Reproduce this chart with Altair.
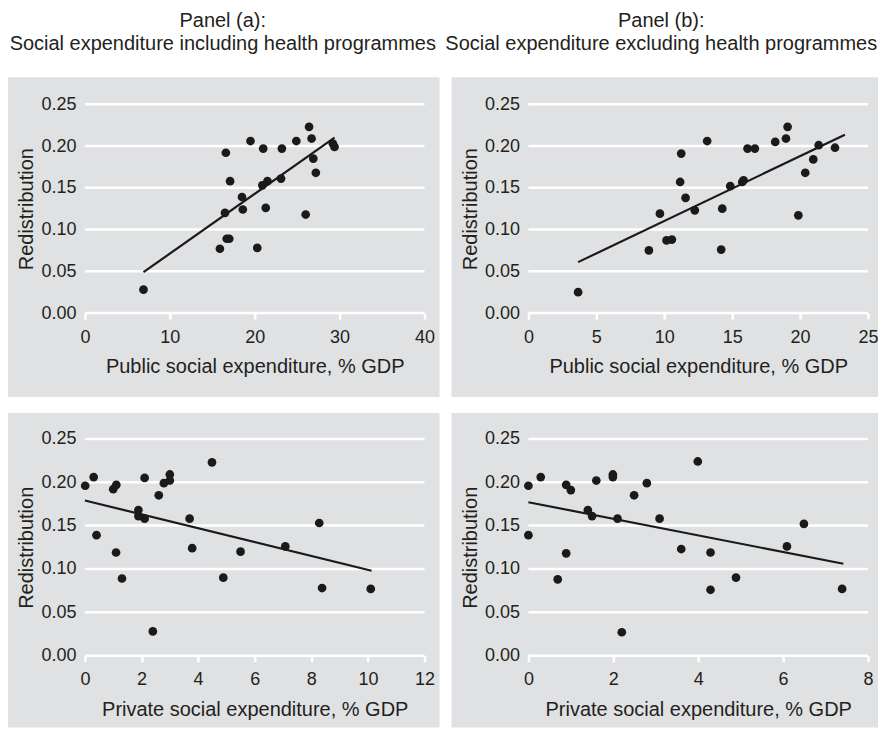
import altair as alt
import pandas as pd

# ---------------- data ----------------
# Panel (a), top: public social expenditure incl. health
pub_a_x = [6.9, 16.6, 17.1, 19.5, 21.0, 23.2, 24.9, 26.4, 26.7, 29.2, 29.4, 26.9, 27.2,
           26.0, 23.1, 21.5, 20.9, 21.3, 18.5, 18.6, 16.5, 16.7, 17.0, 15.9, 20.3]
pub_a_y = [0.028, 0.192, 0.158, 0.206, 0.197, 0.197, 0.206, 0.223, 0.209, 0.203, 0.199, 0.185, 0.168,
           0.118, 0.161, 0.158, 0.153, 0.126, 0.139, 0.124, 0.120, 0.089, 0.089, 0.077, 0.078]
pub_a_fit_x = [6.9, 29.4]
pub_a_fit_y = [0.049, 0.210]

# Panel (b), top: public social expenditure excl. health
pub_b_x = [3.66, 8.87, 9.68, 10.17, 10.56, 11.25, 11.17, 11.57, 12.25, 13.16, 14.19, 14.27, 14.86,
           15.74, 15.84, 16.13, 16.67, 18.17, 18.96, 19.08, 19.87, 20.38, 20.97, 21.37, 22.57]
pub_b_y = [0.025, 0.075, 0.119, 0.087, 0.088, 0.191, 0.157, 0.138, 0.123, 0.206, 0.076, 0.125, 0.152,
           0.157, 0.159, 0.197, 0.197, 0.205, 0.209, 0.223, 0.117, 0.168, 0.184, 0.201, 0.198]
pub_b_fit_x = [3.66, 23.3]
pub_b_fit_y = [0.061, 0.2136]

# Panel (a), bottom: private social expenditure
priv_a_x = [0.01, 0.31, 0.41, 1.0, 1.11, 1.1, 1.31, 1.89, 1.89, 2.11, 2.11, 2.40, 2.61,
            2.79, 3.0, 3.0, 3.70, 3.79, 4.49, 4.89, 5.50, 7.08, 8.28, 8.38, 10.1]
priv_a_y = [0.196, 0.206, 0.139, 0.192, 0.197, 0.119, 0.089, 0.168, 0.161, 0.205, 0.158, 0.028, 0.185,
            0.199, 0.209, 0.202, 0.158, 0.124, 0.223, 0.090, 0.120, 0.126, 0.153, 0.078, 0.077]
priv_a_fit_x = [0.0, 10.13]
priv_a_fit_y = [0.179, 0.098]

# Panel (b), bottom: private social expenditure
priv_b_x = [0.0, 0.0, 0.29, 0.69, 0.89, 1.0, 0.89, 1.4, 1.5, 1.6, 1.99, 1.99, 2.1,
            2.2, 2.49, 2.79, 3.09, 3.6, 3.99, 4.29, 4.29, 4.89, 6.09, 6.49, 7.39]
priv_b_y = [0.196, 0.139, 0.206, 0.088, 0.197, 0.191, 0.118, 0.168, 0.161, 0.202, 0.209, 0.206, 0.158,
            0.027, 0.185, 0.199, 0.158, 0.123, 0.224, 0.119, 0.076, 0.090, 0.126, 0.152, 0.077]
priv_b_fit_x = [0.0, 7.42]
priv_b_fit_y = [0.177, 0.106]

y_ticks = [0.0, 0.05, 0.10, 0.15, 0.20, 0.25]
title_a = ["Panel (a):", "Social expenditure including health programmes"]
title_b = ["Panel (b):", "Social expenditure excluding health programmes"]
xtitle_pub = "Public social expenditure, % GDP"
xtitle_priv = "Private social expenditure, % GDP"
ytitle = "Redistribution"

# ---------------- styling ----------------
FONT = "Liberation Sans"
GRAY = "#e0e1e3"
INK = "#1a1a1a"
TXT = "#231f20"


def panel(xs, ys, fx, fy, xmax, xstep, xtitle, w, h, pad, title=None, title_dx=0):
    xscale = alt.Scale(domain=[0, xmax], nice=False, zero=True)
    yscale = alt.Scale(domain=[0, 0.25], nice=False)
    xaxis = alt.Axis(values=list(range(0, xmax + 1, xstep)), title=xtitle, grid=False,
                     domain=False, ticks=True, tickColor="white", tickWidth=2.5, tickSize=6,
                     labelPadding=9, labelFontSize=18, labelFont=FONT, labelColor=TXT,
                     titleFontSize=20, titleFont=FONT, titleColor=TXT, titleFontWeight="normal",
                     titlePadding=11, zindex=1, labelFlush=False)
    yaxis = alt.Axis(values=y_ticks, format=".2f", title=ytitle, grid=False, domain=False,
                     ticks=False, labelPadding=9, labelFontSize=18, labelFont=FONT,
                     labelColor=TXT, titleFontSize=20, titleFont=FONT, titleColor=TXT,
                     titleFontWeight="normal", titlePadding=4, zindex=1)

    pts = pd.DataFrame({"x": xs, "y": ys})
    fit = pd.DataFrame({"x": fx, "y": fy})
    grid = pd.DataFrame({"y": y_ticks})

    left, right, top, bottom = pad
    bg = alt.Chart(alt.Data(values=[{}])).mark_rect(color=GRAY).encode(
        x=alt.value(-left), x2=alt.value(w + right),
        y=alt.value(-top), y2=alt.value(h + bottom))
    gridl = alt.Chart(grid).mark_rule(color="white", strokeWidth=2.5).encode(
        y=alt.Y("y:Q", scale=yscale, axis=yaxis))
    line = alt.Chart(fit).mark_line(color=INK, strokeWidth=2.2).encode(
        x=alt.X("x:Q", scale=xscale, axis=xaxis), y=alt.Y("y:Q", scale=yscale, axis=yaxis))
    dots = alt.Chart(pts).mark_circle(size=76, color=INK, opacity=1).encode(
        x=alt.X("x:Q", scale=xscale, axis=xaxis), y=alt.Y("y:Q", scale=yscale, axis=yaxis))

    props = dict(width=w, height=h)
    if title is not None:
        props["title"] = alt.TitleParams(text=title, fontSize=20, font=FONT, color=TXT,
                                         fontWeight="normal", anchor="middle", offset=23,
                                         lineHeight=23, dx=title_dx)
    return alt.layer(bg, gridl, line, dots).properties(**props)


W = 340
pa = panel(pub_a_x, pub_a_y, pub_a_fit_x, pub_a_fit_y, 40, 10, xtitle_pub, W, 209,
           (77, 15, 27, 84), title_a, -32)
pb = panel(pub_b_x, pub_b_y, pub_b_fit_x, pub_b_fit_y, 25, 5, xtitle_pub, W, 209,
           (77, 10, 27, 84), title_b, -37)
pc = panel(priv_a_x, priv_a_y, priv_a_fit_x, priv_a_fit_y, 12, 2, xtitle_priv, W, 217,
           (77, 15, 26, 72))
pd_ = panel(priv_b_x, priv_b_y, priv_b_fit_x, priv_b_fit_y, 8, 2, xtitle_priv, W, 217,
            (77, 10, 26, 72))

chart = alt.concat(pa, pb, pc, pd_, columns=2, spacing={"row": 126, "column": 104},
                   bounds="flush").properties(
    padding={"left": 0, "top": 3, "right": 0, "bottom": 0},
    background="white",
).configure_view(stroke=None)

chart.save("out.html", embed_options={"renderer": "svg", "actions": False})
